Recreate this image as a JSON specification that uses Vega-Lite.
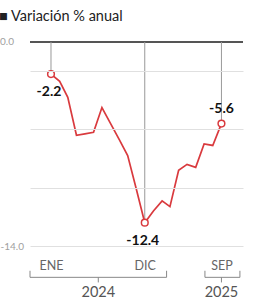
{
  "$schema": "https://vega.github.io/schema/vega-lite/v6.json",
  "width": 213,
  "height": 204,
  "autosize": {"type": "none"},
  "padding": {"left": 30, "top": 42, "right": 12, "bottom": 57},
  "background": "white",
  "title": {
    "text": "■ Variación % anual",
    "anchor": "start",
    "frame": "group",
    "dx": -31,
    "offset": 2,
    "baseline": "alphabetic",
    "font": "Lato",
    "fontSize": 14.5,
    "fontWeight": "normal",
    "color": "#222222"
  },
  "config": {
    "view": {"stroke": null},
    "font": "Lato"
  },
  "datasets": {
    "serie": [
      {"fecha": "2024-01-01", "valor": -2.2, "etiqueta": "-2.2", "pos": "abajo"},
      {"fecha": "2024-02-01", "valor": -2.7},
      {"fecha": "2024-03-01", "valor": -3.8},
      {"fecha": "2024-04-01", "valor": -6.4},
      {"fecha": "2024-05-01", "valor": -6.3},
      {"fecha": "2024-06-01", "valor": -6.2},
      {"fecha": "2024-07-01", "valor": -4.5},
      {"fecha": "2024-08-01", "valor": -5.6},
      {"fecha": "2024-09-01", "valor": -6.7},
      {"fecha": "2024-10-01", "valor": -7.8},
      {"fecha": "2024-11-01", "valor": -10.1},
      {"fecha": "2024-12-01", "valor": -12.4, "etiqueta": "-12.4", "pos": "abajo"},
      {"fecha": "2025-01-01", "valor": -11.6},
      {"fecha": "2025-02-01", "valor": -10.9},
      {"fecha": "2025-03-01", "valor": -11.3},
      {"fecha": "2025-04-01", "valor": -8.8},
      {"fecha": "2025-05-01", "valor": -8.4},
      {"fecha": "2025-06-01", "valor": -8.6},
      {"fecha": "2025-07-01", "valor": -7.0},
      {"fecha": "2025-08-01", "valor": -7.1},
      {"fecha": "2025-09-01", "valor": -5.6, "etiqueta": "-5.6", "pos": "arriba"}
    ],
    "anios": [
      {"anio": "2024", "inicio": "2023-10-18", "fin": "2025-02-17", "centro": "2024-06-18"},
      {"anio": "2025", "inicio": "2025-07-04", "fin": "2025-11-06", "centro": "2025-09-01"}
    ],
    "cero": [{"ref": 0}],
    "ejey": [{"fecha": "2023-10-18", "valor": 0, "etiqueta": "0.0"}]
  },
  "layer": [
    {
      "data": {"name": "serie"},
      "mark": {"type": "rule", "color": "#d0d0d0", "strokeWidth": 0},
      "encoding": {
        "x": {
          "field": "fecha",
          "type": "temporal",
          "scale": {
            "type": "utc",
            "domain": [
              {"year": 2023, "month": 10, "date": 18, "utc": true},
              {"year": 2025, "month": 11, "date": 17, "utc": true}
            ]
          },
          "axis": {
            "values": [
              {"year": 2024, "month": 1, "date": 1, "utc": true},
              {"year": 2024, "month": 12, "date": 1, "utc": true},
              {"year": 2025, "month": 9, "date": 1, "utc": true}
            ],
            "labelExpr": "['ENE','FEB','MAR','ABR','MAY','JUN','JUL','AGO','SEP','OCT','NOV','DIC'][utcmonth(datum.value)]",
            "title": null,
            "domain": false,
            "ticks": false,
            "grid": false,
            "labelOverlap": false,
            "labelPadding": 19,
            "labelBaseline": "middle",
            "labelFontSize": 12.5,
            "labelColor": "#666666",
            "labelFont": "Lato"
          }
        },
        "y": {
          "field": "valor",
          "type": "quantitative",
          "scale": {"domain": [-14, 0], "nice": false, "zero": false},
          "axis": {
            "values": [-14, -12, -10, -8, -6, -4, -2, 0],
            "labelExpr": "datum.value > -0.5 ? '0.0' : (datum.value < -13.5 ? '-14.0' : '')",
            "title": null,
            "domain": false,
            "ticks": false,
            "grid": true,
            "gridColor": "#e0e0e0",
            "gridWidth": 1,
            "labelOverlap": false,
            "labelBound": false,
            "labelFlush": false,
            "labelAlign": "left",
            "labelPadding": 30,
            "labelBaseline": "middle",
            "labelFontSize": 10,
            "labelColor": "#a0a0a0",
            "labelFont": "Lato",
            "zindex": 1
          }
        }
      }
    },
    {
      "data": {"name": "ejey"},
      "mark": {"type": "text", "align": "left", "baseline": "middle", "dx": -30, "fontSize": 10, "color": "#a0a0a0", "font": "Lato", "clip": false},
      "encoding": {
        "x": {"field": "fecha", "type": "temporal"},
        "y": {"field": "valor", "type": "quantitative"},
        "text": {"field": "etiqueta"}
      }
    },
    {
      "data": {"name": "cero"},
      "mark": {"type": "rule", "color": "#555555", "strokeWidth": 2},
      "encoding": {"y": {"field": "ref", "type": "quantitative"}}
    },
    {
      "data": {"name": "serie"},
      "transform": [{"filter": "datum.etiqueta"}, {"calculate": "0", "as": "tope"}],
      "mark": {"type": "rule", "color": "#999999", "strokeWidth": 1},
      "encoding": {
        "x": {"field": "fecha", "type": "temporal"},
        "y": {"field": "valor", "type": "quantitative"},
        "y2": {"field": "tope"}
      }
    },
    {
      "data": {"name": "serie"},
      "mark": {"type": "line", "color": "#d93a3e", "strokeWidth": 1.7},
      "encoding": {
        "x": {"field": "fecha", "type": "temporal"},
        "y": {"field": "valor", "type": "quantitative"}
      }
    },
    {
      "data": {"name": "serie"},
      "transform": [{"filter": "datum.etiqueta"}],
      "mark": {"type": "point", "shape": "circle", "filled": true, "fill": "white", "stroke": "#d93a3e", "strokeWidth": 1.5, "size": 45, "opacity": 1},
      "encoding": {
        "x": {"field": "fecha", "type": "temporal"},
        "y": {"field": "valor", "type": "quantitative"}
      }
    },
    {
      "data": {"name": "serie"},
      "transform": [{"filter": "datum.pos == 'abajo'"}],
      "mark": {"type": "text", "dy": 18, "dx": -2, "fontSize": 14, "fontWeight": "bold", "color": "#111111", "font": "Lato"},
      "encoding": {
        "x": {"field": "fecha", "type": "temporal"},
        "y": {"field": "valor", "type": "quantitative"},
        "text": {"field": "etiqueta"}
      }
    },
    {
      "data": {"name": "serie"},
      "transform": [{"filter": "datum.pos == 'arriba'"}],
      "mark": {"type": "text", "dy": -15, "fontSize": 14, "fontWeight": "bold", "color": "#111111", "font": "Lato"},
      "encoding": {
        "x": {"field": "fecha", "type": "temporal"},
        "y": {"field": "valor", "type": "quantitative"},
        "text": {"field": "etiqueta"}
      }
    },
    {
      "data": {"name": "anios"},
      "transform": [{"calculate": "-16.15", "as": "base"}],
      "mark": {"type": "rule", "color": "#888888", "strokeWidth": 1, "clip": false},
      "encoding": {
        "x": {"field": "inicio", "type": "temporal"},
        "x2": {"field": "fin"},
        "y": {"field": "base", "type": "quantitative"}
      }
    },
    {
      "data": {"name": "anios"},
      "transform": [{"calculate": "-16.15", "as": "base"}, {"calculate": "-15.7", "as": "alto"}],
      "mark": {"type": "rule", "color": "#888888", "strokeWidth": 1, "clip": false},
      "encoding": {
        "x": {"field": "inicio", "type": "temporal"},
        "y": {"field": "alto", "type": "quantitative"},
        "y2": {"field": "base"}
      }
    },
    {
      "data": {"name": "anios"},
      "transform": [{"calculate": "-16.15", "as": "base"}, {"calculate": "-15.7", "as": "alto"}],
      "mark": {"type": "rule", "color": "#888888", "strokeWidth": 1, "clip": false},
      "encoding": {
        "x": {"field": "fin", "type": "temporal"},
        "y": {"field": "alto", "type": "quantitative"},
        "y2": {"field": "base"}
      }
    },
    {
      "data": {"name": "anios"},
      "transform": [{"calculate": "-16.15", "as": "base"}, {"calculate": "-16.5", "as": "bajo"}],
      "mark": {"type": "rule", "color": "#888888", "strokeWidth": 1, "clip": false},
      "encoding": {
        "x": {"field": "centro", "type": "temporal"},
        "y": {"field": "base", "type": "quantitative"},
        "y2": {"field": "bajo"}
      }
    },
    {
      "data": {"name": "anios"},
      "transform": [{"calculate": "-17.25", "as": "nivel"}],
      "mark": {"type": "text", "fontSize": 14.5, "color": "#555555", "font": "Lato", "baseline": "middle", "clip": false},
      "encoding": {
        "x": {"field": "centro", "type": "temporal"},
        "y": {"field": "nivel", "type": "quantitative"},
        "text": {"field": "anio"}
      }
    }
  ]
}
